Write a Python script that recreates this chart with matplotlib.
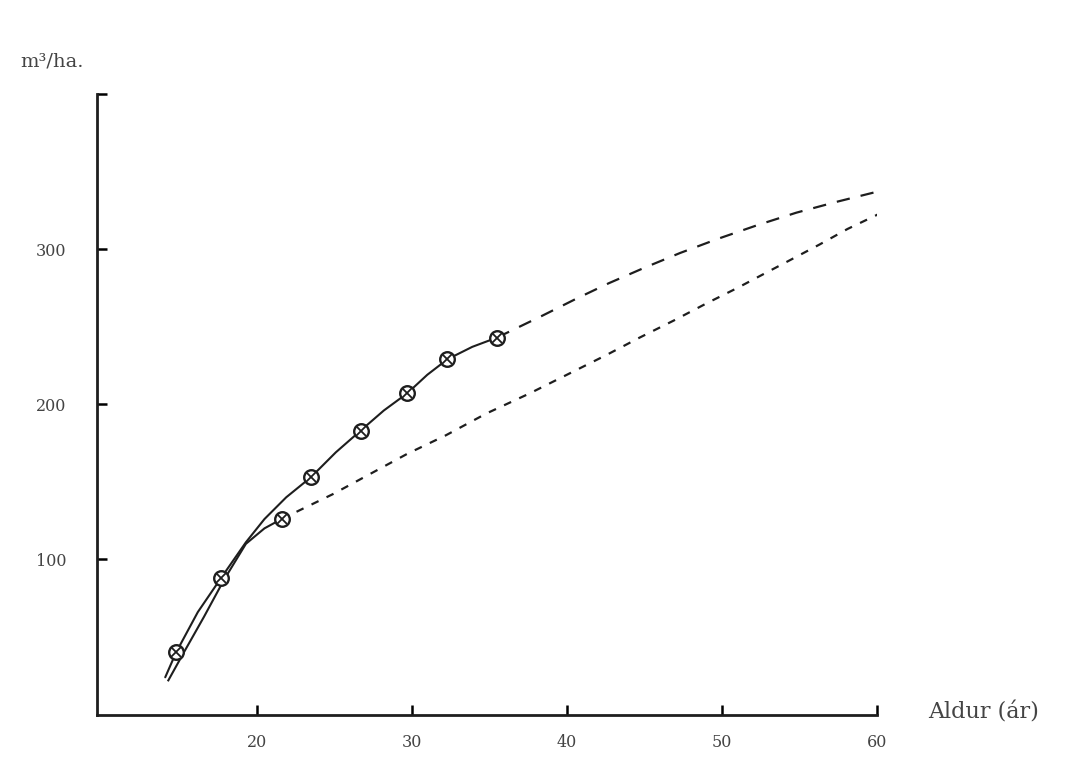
import matplotlib
matplotlib.use("Agg")
import matplotlib.pyplot as plt

# ---- data ----
# measured points (age in years, volume m3/ha)
obs_age = [14.8, 17.7, 21.6, 23.5, 26.7, 29.7, 32.3, 35.5]
obs_vol = [40, 88, 126, 153, 183, 207, 229, 243]

# upper curve, solid part (observed range)
upper_solid_age = [14.1, 14.8, 16.2, 17.7, 19.3, 20.5, 21.9, 23.5, 25.1, 26.7, 28.2, 29.7, 31.0, 32.3, 33.9, 35.5]
upper_solid_vol = [24, 40, 66, 88, 111, 126, 140, 153, 169, 183, 196, 207, 219, 229, 237, 243]
# upper curve, dashed projection
upper_dash_age = [35.5, 38.4, 40.6, 42.7, 45.0, 47.3, 49.7, 52.3, 54.8, 57.4, 60.0, 60.3]
upper_dash_vol = [243, 257, 268, 278, 288, 297.5, 306.5, 315.5, 323.5, 330.5, 337, 338]

# lower curve, solid part
lower_solid_age = [14.3, 15.3, 16.6, 17.9, 19.3, 20.5, 21.6]
lower_solid_vol = [22, 40, 63, 87, 110, 120, 126]
# lower curve, dashed part
lower_dash_age = [21.6, 24.9, 27.3, 29.7, 32.2, 34.8, 37.6, 40.4, 42.6, 44.7, 46.9, 49.0, 51.0, 52.7, 54.6, 56.3, 58.1, 60.4]
lower_dash_vol = [126, 142, 155, 168, 180, 194, 207, 221, 232, 243, 254, 265, 275, 284, 294, 303, 313, 324]

x_ticks = [20, 30, 40, 50, 60]
x_ticklabels = ["20", "30", "40", "50", "60"]
y_ticks = [100, 200, 300, 400]
y_ticklabels = ["100", "200", "300", ""]

y_label = "m³/ha."
x_label = "Aldur (ár)"

# ---- figure ----
W, H = 1084, 770
fig = plt.figure(figsize=(W / 100, H / 100), dpi=100)
fig.patch.set_facecolor("white")
ax = fig.add_axes([97 / W, 1 - 714.5 / H, (877 - 97) / W, (714.5 - 94) / H])

ink = "#1e1e1e"
ax.plot(upper_solid_age, upper_solid_vol, color=ink, lw=1.5, solid_capstyle="round")
ax.plot(upper_dash_age, upper_dash_vol, color=ink, lw=1.6, dashes=(6, 5))
ax.plot(lower_solid_age, lower_solid_vol, color=ink, lw=1.5)
ax.plot(lower_dash_age, lower_dash_vol, color=ink, lw=1.6, dashes=(3.5, 4))

ax.plot(obs_age, obs_vol, ls="none", marker="o", ms=10.5, mfc="white", mec=ink, mew=1.7, zorder=5)
ax.plot(obs_age, obs_vol, ls="none", marker="x", ms=6.5, mec=ink, mew=1.3, zorder=6)

ax.set_xlim(9.7, 60)
ax.set_ylim(0, 400)
ax.spines["top"].set_visible(False)
ax.spines["right"].set_visible(False)
for s in ("left", "bottom"):
    ax.spines[s].set_linewidth(2.0)
    ax.spines[s].set_color(ink)

ax.set_xticks(x_ticks)
ax.set_xticklabels(x_ticklabels)
ax.set_yticks(y_ticks)
ax.set_yticklabels(y_ticklabels)
ax.tick_params(axis="x", direction="in", length=7, width=1.8, pad=14, labelsize=11.5, labelcolor="#444")
ax.tick_params(axis="y", direction="in", length=7, width=1.8, pad=22, labelsize=11.5, labelcolor="#444")
for lab in ax.get_xticklabels() + ax.get_yticklabels():
    lab.set_family("DejaVu Serif")

fig.text(20 / W, 1 - 62 / H, y_label, fontsize=14, color="#444", family="DejaVu Serif", va="center", ha="left")
fig.text(928 / W, 1 - 712 / H, x_label, fontsize=16, color="#444", family="DejaVu Serif", va="center", ha="left")

fig.savefig("out.png", dpi=100, facecolor="white")
